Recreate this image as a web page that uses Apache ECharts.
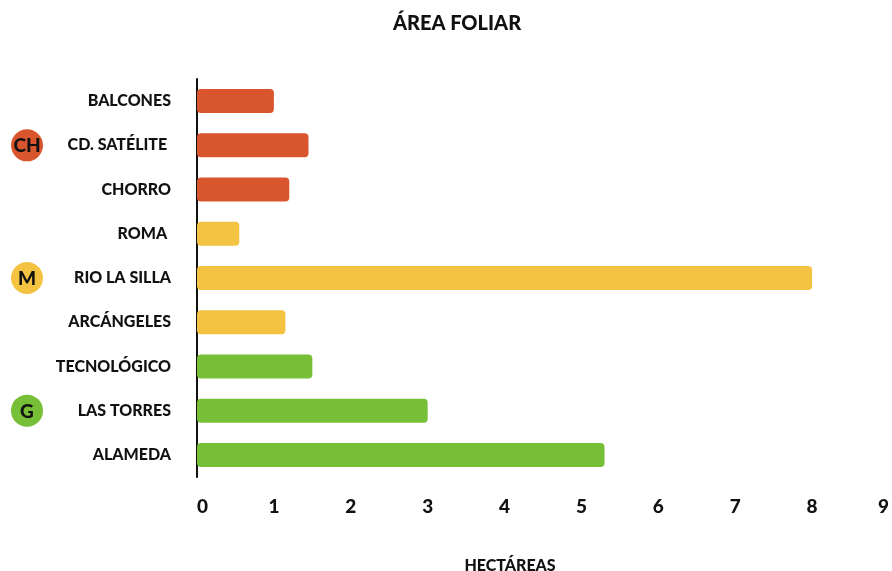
<!DOCTYPE html>
<html>
<head>
<meta charset="utf-8">
<script src="https://cdn.jsdelivr.net/npm/echarts@6/dist/echarts.min.js"></script>
<style>
  html, body { margin: 0; padding: 0; background: #ffffff; }
  #chart { width: 892px; height: 571px; }
</style>
</head>
<body>
<div id="chart"></div>
<script>
// Leaf area per park, in hectares, grouped by municipality
const categories = ['BALCONES', 'CD. SATÉLITE ', 'CHORRO', 'ROMA ', 'RIO LA SILLA', 'ARCÁNGELES', 'TECNOLÓGICO', 'LAS TORRES', 'ALAMEDA'];
const values = [1.0, 1.45, 1.2, 0.55, 8.0, 1.15, 1.5, 3.0, 5.3];
const groupOf = ['CH', 'CH', 'CH', 'M', 'M', 'M', 'G', 'G', 'G'];
const groupColors = { CH: '#D9552E', M: '#F5C342', G: '#76BF37' };
// badge shown beside the middle park of each group
const badges = [
  { text: 'CH', category: 'CD. SATÉLITE ' },
  { text: 'M', category: 'RIO LA SILLA' },
  { text: 'G', category: 'LAS TORRES' }
];
const xTicks = [0, 1, 2, 3, 4, 5, 6, 7, 8, 9];

const FONT = 'Lato, "Noto Sans", sans-serif';

const chart = echarts.init(document.getElementById('chart'));

chart.setOption({
  backgroundColor: '#ffffff',
  animation: false,
  title: [
    {
      text: 'ÁREA FOLIAR',
      left: 452,
      top: 9,
      textAlign: 'center',
      textStyle: { fontFamily: FONT, fontWeight: 900, fontSize: 20, color: '#111' }
    },
    {
      text: 'HECTÁREAS',
      left: 505,
      top: 553,
      textAlign: 'center',
      textStyle: { fontFamily: FONT, fontWeight: 900, fontSize: 16, color: '#111' }
    }
  ],
  grid: { left: 197, right: 2, top: 79, bottom: 94, containLabel: false },
  xAxis: {
    type: 'value',
    min: xTicks[0],
    max: xTicks[xTicks.length - 1],
    interval: 1,
    axisLine: { show: false },
    axisTick: { show: false },
    splitLine: { show: false },
    axisLabel: {
      margin: 20,
      alignMinLabel: 'left',
      alignMaxLabel: 'right',
      fontFamily: FONT,
      fontWeight: 900,
      fontSize: 19,
      color: '#111'
    }
  },
  yAxis: {
    type: 'category',
    data: categories,
    inverse: true,
    axisLine: { show: true, lineStyle: { color: '#111', width: 2 } },
    axisTick: { show: false },
    axisLabel: {
      margin: 26,
      fontFamily: FONT,
      fontWeight: 900,
      fontSize: 16,
      color: '#111'
    }
  },
  series: [{
    type: 'bar',
    data: values.map((v, i) => ({
      value: v,
      itemStyle: { color: groupColors[groupOf[i]] }
    })),
    barWidth: 24,
    itemStyle: { borderRadius: 4 },
    silent: true
  }]
});

// Municipality badges, placed on the rows they belong to
const badgeGraphics = badges.map(b => {
  const y = chart.convertToPixel({ yAxisIndex: 0 }, b.category);
  return {
    type: 'group',
    x: 27,
    y: y,
    children: [
      { type: 'circle', shape: { cx: 0, cy: 0, r: 16 }, style: { fill: groupColors[b.text] } },
      {
        type: 'text',
        style: {
          text: b.text,
          x: 0, y: 1,
          align: 'center',
          verticalAlign: 'middle',
          fontFamily: FONT,
          fontWeight: 900,
          fontSize: 19,
          fill: '#111'
        }
      }
    ]
  };
});
chart.setOption({ graphic: badgeGraphics });
</script>
</body>
</html>
